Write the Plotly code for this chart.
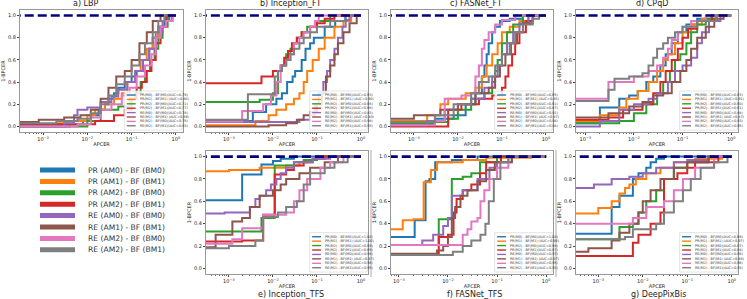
import plotly.graph_objects as go

COLORS = ["#1f77b4", "#ff7f0e", "#2ca02c", "#d62728", "#9467bd", "#8c564b", "#e377c2", "#7f7f7f"]
SERIES = ["PR (AM0) - BF (BM0)", "PR (AM1) - BF (BM1)", "PR (AM2) - BF (BM0)", "PR (AM2) - BF (BM1)",
          "RE (AM0) - BF (BM0)", "RE (AM1) - BF (BM1)", "RE (AM2) - BF (BM0)", "RE (AM2) - BF (BM1)"]
SHORT = ["PR(M0) - BF(M0)", "PR(M1) - BF(M1) ", "PR(M2) - BF(M0)", "PR(M2) - BF(M1)",
         "RE(M0) - BF(M0)", "RE(M1) - BF(M1) ", "RE(M2) - BF(M0)", "RE(M2) - BF(M1)"]
TITLES = ["a) LBP", "b) Inception_FT", "c) FASNet_FT", "d) CPqD", "e) Inception_TFS", "f) FASNet_TFS", "g) DeepPixBis"]
X_TICKS = [1e-3, 1e-2, 1e-1, 1]
X_TICKTEXT = ["10<sup>\u22123</sup>", "10<sup>\u22122</sup>", "10<sup>\u22121</sup>", "10<sup>0</sup>"]
Y_TICKS = [0, 0.2, 0.4, 0.6, 0.8, 1.0]

# ---- a) LBP ----
LBP_AUC = [0.79, 0.80, 0.71, 0.77, 0.78, 0.86, 0.75, 0.83]
LBP_FPR = [
    [1e-4, 0.004, 0.008, 0.012, 0.018, 0.025, 0.03, 0.04, 0.05, 0.07, 0.1, 0.13, 0.18, 0.25, 0.3, 0.4, 0.55, 0.7, 1],
    [1e-4, 0.002, 0.005, 0.01, 0.015, 0.025, 0.04, 0.06, 0.08, 0.12, 0.16, 0.22, 0.3, 0.4, 0.6, 1],
    [1e-4, 0.01, 0.02, 0.05, 0.09, 0.12, 0.16, 0.2, 0.26, 0.33, 0.4, 0.5, 0.65, 1],
    [1e-4, 0.015, 0.04, 0.07, 0.1, 0.13, 0.17, 0.22, 0.28, 0.35, 0.45, 0.6, 1],
    [1e-4, 0.003, 0.005, 0.006, 0.01, 0.02, 0.035, 0.05, 0.08, 0.12, 0.18, 0.25, 0.35, 0.5, 0.8, 1],
    [1e-4, 0.0008, 0.003, 0.007, 0.012, 0.02, 0.03, 0.045, 0.07, 0.1, 0.15, 0.22, 0.3, 0.45, 1],
    [1e-4, 0.006, 0.012, 0.02, 0.035, 0.06, 0.09, 0.13, 0.2, 0.28, 0.35, 0.45, 0.6, 0.85, 1],
    [1e-4, 0.002, 0.006, 0.012, 0.02, 0.03, 0.045, 0.07, 0.1, 0.15, 0.2, 0.3, 0.4, 0.55, 1],
]
LBP_TPR = [
    [0, 0.02, 0.05, 0.1, 0.15, 0.2, 0.25, 0.3, 0.35, 0.4, 0.45, 0.5, 0.6, 0.7, 0.8, 0.9, 0.95, 1, 1],
    [0.02, 0.03, 0.05, 0.1, 0.15, 0.2, 0.25, 0.3, 0.4, 0.5, 0.6, 0.7, 0.8, 0.9, 1, 1],
    [0, 0.05, 0.15, 0.18, 0.25, 0.3, 0.4, 0.5, 0.6, 0.7, 0.8, 0.9, 1, 1],
    [0.02, 0.05, 0.1, 0.15, 0.25, 0.35, 0.4, 0.5, 0.6, 0.75, 0.9, 1, 1],
    [0, 0.03, 0.1, 0.15, 0.17, 0.22, 0.27, 0.33, 0.4, 0.5, 0.6, 0.7, 0.85, 0.95, 1, 1],
    [0.04, 0.06, 0.08, 0.1, 0.15, 0.25, 0.35, 0.45, 0.5, 0.6, 0.75, 0.85, 0.95, 1, 1],
    [0, 0.02, 0.08, 0.15, 0.2, 0.28, 0.35, 0.45, 0.55, 0.65, 0.8, 0.9, 0.95, 1, 1],
    [0.03, 0.05, 0.07, 0.12, 0.2, 0.28, 0.38, 0.45, 0.55, 0.65, 0.75, 0.85, 0.95, 1, 1],
]

# ---- b) Inception_FT ----
INCFT_AUC = [0.93, 0.90, 0.98, 0.98, 0.83, 0.80, 0.98, 0.93]
INCFT_FPR = [
    [1e-4, 0.0035, 0.007, 0.012, 0.016, 0.021, 0.028, 0.032, 0.045, 0.055, 0.07, 0.085, 0.15, 0.26, 0.44, 1],
    [1e-4, 0.004, 0.008, 0.012, 0.02, 0.03, 0.04, 0.05, 0.06, 0.08, 0.11, 0.15, 0.25, 0.4, 0.6, 1],
    [1e-4, 0.005, 0.01, 0.013, 0.016, 0.02, 0.025, 0.03, 0.035, 0.045, 0.06, 0.1, 0.2, 1],
    [1e-4, 0.0055, 0.01, 0.015, 0.018, 0.022, 0.027, 0.035, 0.045, 0.07, 0.1, 0.15, 0.25, 1],
    [1e-4, 0.04, 0.07, 0.09, 0.11, 0.14, 0.17, 0.2, 0.25, 0.3, 0.38, 0.45, 0.55, 1],
    [1e-4, 0.008, 0.02, 0.035, 0.05, 0.07, 0.1, 0.13, 0.16, 0.2, 0.25, 0.3, 0.4, 0.55, 0.8, 1],
    [1e-4, 0.002, 0.006, 0.009, 0.012, 0.015, 0.02, 0.025, 0.03, 0.04, 0.05, 0.07, 0.09, 0.11, 1],
    [1e-4, 0.0027, 0.011, 0.013, 0.016, 0.02, 0.025, 0.03, 0.04, 0.05, 0.07, 0.1, 0.2, 0.45, 1],
]
INCFT_TPR = [
    [0.05, 0.13, 0.2, 0.25, 0.3, 0.4, 0.45, 0.5, 0.6, 0.7, 0.75, 0.8, 0.9, 0.95, 1, 1],
    [0.01, 0.05, 0.1, 0.15, 0.2, 0.25, 0.3, 0.4, 0.5, 0.6, 0.7, 0.8, 0.9, 0.95, 1, 1],
    [0.22, 0.24, 0.3, 0.5, 0.55, 0.65, 0.7, 0.75, 0.8, 0.85, 0.9, 0.95, 1, 1],
    [0.39, 0.45, 0.5, 0.55, 0.62, 0.68, 0.75, 0.8, 0.85, 0.9, 0.93, 0.97, 1, 1],
    [0.04, 0.06, 0.1, 0.2, 0.3, 0.4, 0.5, 0.6, 0.7, 0.8, 0.9, 0.96, 1, 1],
    [0.0, 0.01, 0.03, 0.06, 0.1, 0.13, 0.2, 0.3, 0.45, 0.55, 0.65, 0.75, 0.85, 0.93, 1, 1],
    [0.045, 0.14, 0.2, 0.28, 0.4, 0.55, 0.6, 0.65, 0.75, 0.8, 0.85, 0.9, 0.95, 1, 1],
    [0.06, 0.29, 0.45, 0.5, 0.55, 0.6, 0.65, 0.7, 0.75, 0.8, 0.85, 0.9, 0.95, 1, 1],
]

# ---- c) FASNet_FT ----
FASFT_AUC = [0.95, 0.93, 0.91, 0.87, 0.91, 0.87, 0.94, 0.88]
FASFT_FPR = [
    [1e-4, 0.003, 0.008, 0.015, 0.025, 0.035, 0.04, 0.045, 0.05, 0.06, 0.07, 0.09, 0.15, 0.3, 1],
    [1e-4, 0.002, 0.004, 0.006, 0.015, 0.025, 0.035, 0.045, 0.06, 0.08, 0.1, 0.15, 0.25, 0.4, 1],
    [1e-4, 0.003, 0.006, 0.01, 0.02, 0.04, 0.06, 0.07, 0.08, 0.1, 0.13, 0.18, 0.3, 1],
    [1e-4, 0.006, 0.012, 0.03, 0.06, 0.1, 0.12, 0.14, 0.17, 0.2, 0.25, 0.35, 0.5, 1],
    [1e-4, 0.002, 0.005, 0.01, 0.02, 0.04, 0.06, 0.08, 0.1, 0.13, 0.18, 0.25, 0.4, 1],
    [1e-4, 0.001, 0.004, 0.01, 0.025, 0.05, 0.07, 0.09, 0.12, 0.16, 0.22, 0.3, 0.5, 1],
    [1e-4, 0.003, 0.005, 0.012, 0.02, 0.025, 0.03, 0.035, 0.04, 0.05, 0.07, 0.1, 0.2, 1],
    [1e-4, 0.003, 0.008, 0.02, 0.03, 0.05, 0.07, 0.1, 0.15, 0.2, 0.3, 0.5, 0.7, 1],
]
FASFT_TPR = [
    [0.02, 0.07, 0.1, 0.2, 0.3, 0.45, 0.55, 0.65, 0.75, 0.85, 0.9, 0.95, 0.97, 1, 1],
    [0.05, 0.1, 0.2, 0.25, 0.3, 0.35, 0.45, 0.55, 0.65, 0.75, 0.85, 0.9, 0.95, 1, 1],
    [0.03, 0.04, 0.07, 0.15, 0.25, 0.3, 0.4, 0.5, 0.6, 0.75, 0.85, 0.92, 1, 1],
    [0.0, 0.15, 0.2, 0.25, 0.28, 0.35, 0.45, 0.55, 0.65, 0.75, 0.85, 0.95, 1, 1],
    [0.01, 0.05, 0.15, 0.2, 0.25, 0.35, 0.45, 0.55, 0.65, 0.75, 0.85, 0.93, 1, 1],
    [0.07, 0.1, 0.15, 0.2, 0.3, 0.35, 0.45, 0.55, 0.65, 0.75, 0.85, 0.93, 1, 1],
    [0.01, 0.05, 0.25, 0.28, 0.3, 0.45, 0.55, 0.7, 0.78, 0.85, 0.92, 0.96, 1, 1],
    [0.04, 0.1, 0.2, 0.3, 0.4, 0.45, 0.55, 0.65, 0.75, 0.85, 0.92, 0.97, 1, 1],
]

# ---- d) CPqD ----
CPQD_AUC = [0.93, 0.91, 0.90, 0.91, 0.88, 0.87, 0.93, 0.95]
CPQD_FPR = [
    [1e-4, 0.002, 0.005, 0.008, 0.012, 0.018, 0.025, 0.035, 0.045, 0.06, 0.08, 0.12, 0.2, 0.4, 1],
    [1e-4, 0.002, 0.005, 0.007, 0.012, 0.02, 0.03, 0.04, 0.05, 0.07, 0.1, 0.15, 0.25, 0.5, 1],
    [1e-4, 0.005, 0.01, 0.018, 0.03, 0.04, 0.055, 0.07, 0.09, 0.12, 0.15, 0.2, 0.3, 0.5, 1],
    [1e-4, 0.003, 0.006, 0.015, 0.025, 0.035, 0.045, 0.06, 0.08, 0.1, 0.13, 0.2, 0.4, 1],
    [1e-4, 0.002, 0.005, 0.01, 0.02, 0.03, 0.05, 0.07, 0.1, 0.15, 0.2, 0.25, 0.35, 0.6, 1],
    [1e-4, 0.003, 0.008, 0.015, 0.025, 0.04, 0.06, 0.09, 0.12, 0.15, 0.2, 0.3, 0.45, 0.7, 1],
    [1e-4, 0.003, 0.01, 0.02, 0.03, 0.04, 0.05, 0.06, 0.08, 0.1, 0.15, 0.3, 1],
    [1e-4, 0.003, 0.004, 0.008, 0.015, 0.02, 0.025, 0.03, 0.04, 0.05, 0.07, 0.1, 0.2, 0.5, 1],
]
CPQD_TPR = [
    [0.03, 0.17, 0.25, 0.28, 0.32, 0.4, 0.45, 0.55, 0.65, 0.75, 0.85, 0.92, 0.97, 1, 1],
    [0.05, 0.1, 0.17, 0.25, 0.32, 0.4, 0.5, 0.6, 0.65, 0.75, 0.85, 0.92, 0.97, 1, 1],
    [0.03, 0.05, 0.12, 0.2, 0.3, 0.4, 0.5, 0.6, 0.65, 0.75, 0.85, 0.92, 0.97, 1, 1],
    [0.06, 0.08, 0.15, 0.2, 0.3, 0.4, 0.5, 0.6, 0.7, 0.8, 0.88, 0.95, 1, 1],
    [0.0, 0.05, 0.15, 0.2, 0.25, 0.3, 0.4, 0.5, 0.55, 0.62, 0.75, 0.85, 0.95, 1, 1],
    [0.08, 0.12, 0.18, 0.22, 0.28, 0.3, 0.4, 0.5, 0.6, 0.7, 0.8, 0.9, 0.97, 1, 1],
    [0.25, 0.4, 0.45, 0.5, 0.55, 0.62, 0.7, 0.78, 0.85, 0.9, 0.95, 1, 1],
    [0.23, 0.33, 0.43, 0.45, 0.48, 0.55, 0.62, 0.7, 0.75, 0.8, 0.85, 0.9, 0.95, 1, 1],
]

# ---- e) Inception_TFS ----
INCTFS_AUC = [1.00, 1.00, 0.99, 0.99, 0.98, 0.97, 0.96, 0.95]
INCTFS_FPR = [
    [1e-4, 0.002, 0.0055, 0.01, 0.015, 0.03, 1],
    [1e-4, 0.001, 0.005, 0.02, 0.04, 0.06, 0.1, 1],
    [1e-4, 0.0055, 0.011, 0.03, 0.05, 0.1, 1],
    [1e-4, 0.002, 0.006, 0.011, 0.02, 0.03, 0.05, 0.08, 0.15, 1],
    [1e-4, 0.0008, 0.003, 0.004, 0.005, 0.007, 0.009, 0.012, 0.015, 0.02, 0.03, 0.08, 0.2, 1],
    [1e-4, 0.0005, 0.0012, 0.002, 0.003, 0.005, 0.01, 0.015, 0.02, 0.04, 0.07, 0.15, 0.3, 1],
    [1e-4, 0.0012, 0.002, 0.006, 0.02, 0.03, 0.04, 0.06, 0.12, 0.2, 0.4, 1],
    [1e-4, 0.001, 0.004, 0.006, 0.013, 0.02, 0.035, 0.05, 0.07, 0.15, 0.25, 0.5, 1],
]
INCTFS_TPR = [
    [0.61, 0.84, 0.93, 0.96, 0.98, 1, 1],
    [0.87, 0.88, 0.9, 0.92, 0.95, 0.97, 1, 1],
    [0.33, 0.45, 0.92, 0.95, 0.97, 1, 1],
    [0.24, 0.25, 0.48, 0.84, 0.88, 0.92, 0.95, 0.98, 1, 1],
    [0.49, 0.5, 0.55, 0.62, 0.65, 0.7, 0.75, 0.8, 0.85, 0.9, 0.95, 0.98, 1, 1],
    [0.19, 0.3, 0.42, 0.45, 0.55, 0.65, 0.7, 0.75, 0.8, 0.85, 0.9, 0.95, 1, 1],
    [0.22, 0.26, 0.36, 0.48, 0.5, 0.6, 0.7, 0.8, 0.9, 0.95, 1, 1],
    [0.18, 0.2, 0.25, 0.46, 0.5, 0.55, 0.6, 0.75, 0.85, 0.9, 0.95, 1, 1],
]

# ---- f) FASNet_TFS ----
FASTFS_AUC = [1.00, 0.99, 0.98, 0.97, 0.97, 0.97, 0.95, 0.93]
FASTFS_FPR = [
    [1e-4, 0.0021, 0.0035, 0.0042, 0.0055, 0.012, 0.04, 1],
    [1e-4, 0.0012, 0.002, 0.0032, 0.0045, 0.006, 0.02, 0.06, 0.5, 1],
    [1e-4, 0.0065, 0.012, 0.02, 0.03, 0.045, 0.1, 1],
    [1e-4, 0.0065, 0.01, 0.013, 0.015, 0.02, 0.03, 0.045, 0.06, 0.12, 1],
    [1e-4, 0.003, 0.005, 0.008, 0.01, 0.012, 0.02, 0.04, 0.07, 0.1, 0.2, 1],
    [1e-4, 0.006, 0.008, 0.01, 0.012, 0.014, 0.018, 0.025, 0.04, 0.06, 0.09, 0.2, 1],
    [1e-4, 0.02, 0.025, 0.03, 0.04, 0.046, 0.055, 0.07, 0.1, 0.17, 1],
    [1e-4, 0.0126, 0.02, 0.03, 0.046, 0.058, 0.068, 0.086, 0.117, 0.17, 1],
]
FASTFS_TPR = [
    [0.28, 0.43, 0.78, 0.8, 0.95, 0.97, 1, 1],
    [0.35, 0.43, 0.44, 0.77, 0.88, 0.95, 0.97, 0.99, 1, 1],
    [0.21, 0.44, 0.8, 0.82, 0.85, 0.95, 1, 1],
    [0.12, 0.28, 0.3, 0.5, 0.62, 0.7, 0.75, 0.85, 0.95, 1, 1],
    [0.21, 0.25, 0.3, 0.38, 0.45, 0.65, 0.7, 0.8, 0.9, 0.95, 1, 1],
    [0.13, 0.16, 0.2, 0.28, 0.45, 0.55, 0.65, 0.7, 0.78, 0.88, 0.95, 1, 1],
    [0.21, 0.3, 0.35, 0.42, 0.45, 0.6, 0.7, 0.8, 0.9, 1, 1],
    [0.12, 0.15, 0.2, 0.25, 0.3, 0.4, 0.6, 0.8, 0.95, 1, 1],
]

# ---- g) DeepPixBis ----
DPB_AUC = [0.99, 0.97, 0.97, 0.94, 0.98, 0.98, 0.96, 0.93]
DPB_FPR = [
    [1e-4, 0.002, 0.003, 0.006, 0.008, 0.012, 0.015, 0.02, 0.03, 1],
    [1e-4, 0.001, 0.002, 0.003, 0.004, 0.005, 0.007, 0.012, 0.025, 0.05, 0.15, 0.6, 1],
    [1e-4, 0.003, 0.006, 0.008, 0.012, 0.02, 0.03, 0.05, 0.1, 0.3, 1],
    [1e-4, 0.006, 0.008, 0.015, 0.025, 0.03, 0.06, 0.1, 0.15, 0.5, 1],
    [1e-4, 0.0008, 0.002, 0.005, 0.01, 0.02, 0.05, 0.1, 0.3, 1],
    [1e-4, 0.0006, 0.002, 0.003, 0.005, 0.008, 0.01, 0.015, 0.025, 0.05, 0.1, 0.3, 1],
    [1e-4, 0.006, 0.012, 0.03, 0.05, 0.08, 0.15, 0.4, 1],
    [1e-4, 0.004, 0.006, 0.02, 0.03, 0.05, 0.08, 0.12, 0.2, 0.4, 0.8, 1],
]
DPB_TPR = [
    [0.31, 0.55, 0.65, 0.8, 0.85, 0.9, 0.95, 0.98, 1, 1],
    [0.49, 0.54, 0.6, 0.67, 0.72, 0.75, 0.8, 0.85, 0.9, 0.95, 0.98, 1, 1],
    [0.26, 0.37, 0.4, 0.5, 0.6, 0.7, 0.8, 0.9, 0.95, 1, 1],
    [0.11, 0.23, 0.3, 0.4, 0.5, 0.8, 0.85, 0.9, 0.95, 1, 1],
    [0.72, 0.75, 0.8, 0.82, 0.85, 0.9, 0.95, 0.97, 1, 1],
    [0.15, 0.18, 0.25, 0.32, 0.4, 0.5, 0.6, 0.7, 0.8, 0.9, 0.95, 1, 1],
    [0.4, 0.45, 0.55, 0.6, 0.7, 0.8, 0.9, 1, 1],
    [0.26, 0.28, 0.35, 0.4, 0.5, 0.6, 0.7, 0.8, 0.9, 0.95, 1, 1],
]

PANELS = [
    (LBP_FPR, LBP_TPR, LBP_AUC),
    (INCFT_FPR, INCFT_TPR, INCFT_AUC),
    (FASFT_FPR, FASFT_TPR, FASFT_AUC),
    (CPQD_FPR, CPQD_TPR, CPQD_AUC),
    (INCTFS_FPR, INCTFS_TPR, INCTFS_AUC),
    (FASTFS_FPR, FASTFS_TPR, FASTFS_AUC),
    (DPB_FPR, DPB_TPR, DPB_AUC),
]
REF_X = [1e-4, 1]
REF_Y = [1, 1]

# ---- layout geometry (pixels in a 747x299 canvas) ----
W, H = 747, 299
PX_X = [(20, 183), (206, 368), (391, 553), (576, 738), (206, 368), (391, 553), (576, 738)]
PX_Y = [(10, 132)] * 4 + [(151, 274)] * 3
TITLE_X = [86, 290, 476, 652, 291, 474, 658]
TITLE_Y = [4, 4, 4, 4, 294, 294, 294]
XRANGES = [[-3.52, 0.16], [-3.52, 0.16], [-3.52, 0.16], [-3.19, 0.14],
           [-3.52, 0.16], [-3.16, 0.14], [-3.5, 0.14]]

FONT = "DejaVu Sans"
fig = go.Figure()
layout = dict(width=W, height=H, margin=dict(l=0, r=0, t=0, b=0),
              paper_bgcolor="white", plot_bgcolor="white", showlegend=False,
              font=dict(family=FONT, color="#222"))
shapes, annotations = [], []

minor_vals = [m * 10 ** e for e in range(-4, 1) for m in range(2, 10)]

for p, (fprs, tprs, aucs) in enumerate(PANELS):
    k = "" if p == 0 else str(p + 1)
    xa, ya = "x" + k, "y" + k
    for i in range(8):
        fig.add_trace(go.Scatter(x=fprs[i], y=tprs[i], mode="lines", line_shape="hv",
                                 line=dict(color=COLORS[i], width=2), xaxis=xa, yaxis=ya,
                                 name=SERIES[i], hoverinfo="skip"))
    fig.add_trace(go.Scatter(x=REF_X, y=REF_Y, mode="lines",
                             line=dict(color="#000080", width=2.6, dash="9px,4px"),
                             xaxis=xa, yaxis=ya, hoverinfo="skip"))
    x0, x1 = PX_X[p]
    y0, y1 = PX_Y[p]
    layout["xaxis" + k] = dict(
        type="log", range=XRANGES[p], domain=[x0 / W, x1 / W], anchor=ya,
        tickvals=X_TICKS, ticktext=X_TICKTEXT, ticks="outside", ticklen=2, tickwidth=0.6,
        tickcolor="#444", tickfont=dict(size=5, color="#222"),
        minor=dict(tickvals=minor_vals, ticks="outside", ticklen=1, tickwidth=0.5, tickcolor="#666"),
        showline=True, mirror=True, linecolor="#999", linewidth=1.2, showgrid=False, zeroline=False,
        title=dict(text="APCER", font=dict(size=5, color="#222"), standoff=1))
    layout["yaxis" + k] = dict(
        range=[-0.05, 1.05], domain=[1 - y1 / H, 1 - y0 / H], anchor=xa,
        tickvals=Y_TICKS, ticktext=["%.1f" % v for v in Y_TICKS], ticks="outside", ticklen=2,
        tickwidth=0.6, tickcolor="#444", tickfont=dict(size=5, color="#222"),
        showline=True, mirror=True, linecolor="#999", linewidth=1.2, showgrid=False, zeroline=False,
        title=dict(text="1-BPCER", font=dict(size=5, color="#222"), standoff=2))
    annotations.append(dict(text=TITLES[p], x=TITLE_X[p] / W, y=1 - TITLE_Y[p] / H,
                            xref="paper", yref="paper", showarrow=False,
                            font=dict(size=8, color="#222"), xanchor="center", yanchor="middle"))

    # in-panel legend box (paper coordinates derived from the panel's pixel box)
    def px(fx):
        return (x0 + fx * (x1 - x0)) / W

    def py(fy):
        return 1 - (y1 - fy * (y1 - y0)) / H

    shapes.append(dict(type="rect", xref="paper", yref="paper", x0=px(0.64), x1=px(0.995),
                       y0=py(0.016), y1=py(0.336),
                       line=dict(color="#d0d0d0", width=0.6), fillcolor="rgba(255,255,255,0.85)"))
    for i in range(8):
        yy = 0.303 - 0.036 * i
        shapes.append(dict(type="line", xref="paper", yref="paper", x0=px(0.655), x1=px(0.71),
                           y0=py(yy), y1=py(yy), line=dict(color=COLORS[i], width=1.4)))
        annotations.append(dict(text="%s(AUC=%.2f)" % (SHORT[i], aucs[i]), x=px(0.722), y=py(yy),
                                xref="paper", yref="paper", showarrow=False, xanchor="left",
                                yanchor="middle", font=dict(size=3.4, color="#333")))

# main legend (bottom-left)
for i in range(8):
    yy = 1 - (170 + 11.4 * i) / H
    shapes.append(dict(type="line", xref="paper", yref="paper", x0=40 / W, x1=75 / W, y0=yy, y1=yy,
                       line=dict(color=COLORS[i], width=5)))
    annotations.append(dict(text=SERIES[i], x=86 / W, y=yy, xref="paper", yref="paper",
                            showarrow=False, xanchor="left", yanchor="middle",
                            font=dict(size=7.6, color="#333")))

# thin image-border lines visible in the reference
for bx in (371, 556):
    shapes.append(dict(type="line", xref="paper", yref="paper", x0=bx / W, x1=bx / W,
                       y0=1 - 277 / H, y1=1 - 150 / H, line=dict(color="#aaa", width=1)))

layout["shapes"] = shapes
layout["annotations"] = annotations
fig.update_layout(**layout)
fig.write_html("out.html", config={"displayModeBar": False},
               post_script="document.body.style.margin='0px';")
